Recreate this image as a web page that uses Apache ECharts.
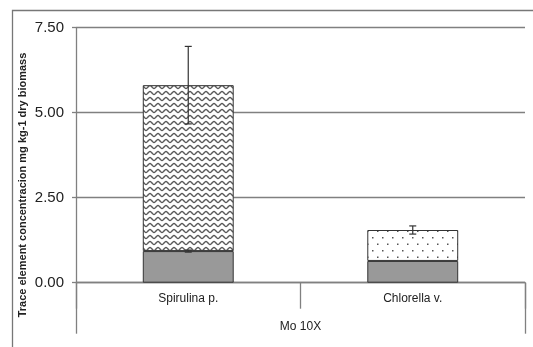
<!DOCTYPE html>
<html><head><meta charset="utf-8">
<script src="https://cdn.jsdelivr.net/npm/echarts@6/dist/echarts.min.js"></script>
<style>html,body{margin:0;padding:0;background:#fff}#c{width:533px;height:347px}</style>
</head><body><div id="c"></div>
<script>
const categories = ['Spirulina p.', 'Chlorella v.'];
const groupLabel = ['Mo 10X'];
const baseValues = [0.93, 0.64];
const baseErrors = [0.03, 0];
const topValues = [4.88, 0.91];
const totalErrors = [1.14, 0.12];
const yTicks = [0, 2.5, 5, 7.5];
const yTitle = 'Trace element concentracion mg kg-1 dry biomass';

function wavePattern() {
  const c = document.createElement('canvas');
  c.width = 8; c.height = 6;
  const g = c.getContext('2d');
  g.fillStyle = '#fff'; g.fillRect(0, 0, 8, 6);
  g.strokeStyle = '#5a5a5a'; g.lineWidth = 1.4;
  g.beginPath();
  for (let x = -1; x <= 9; x += 0.5) {
    const y = 3 + 1.5 * Math.sin(x / 8 * Math.PI * 2);
    if (x === -1) g.moveTo(x, y); else g.lineTo(x, y);
  }
  g.stroke();
  return c;
}
function dotPattern() {
  const c = document.createElement('canvas');
  c.width = 10; c.height = 13;
  const g = c.getContext('2d');
  g.fillStyle = '#fff'; g.fillRect(0, 0, 10, 13);
  g.fillStyle = '#555';
  g.fillRect(2, 3, 1.5, 1.5);
  g.fillRect(7, 9.5, 1.5, 1.5);
  return c;
}

const errData = [];
categories.forEach((c, i) => {
  if (baseErrors[i] > 0) errData.push([i, baseValues[i], baseErrors[i]]);
  errData.push([i, baseValues[i] + topValues[i], totalErrors[i]]);
});

const chart = echarts.init(document.getElementById('c'));
chart.setOption({
  animation: false,
  backgroundColor: '#fff',
  grid: { left: 76, right: 8, top: 27.7, bottom: 64.3, containLabel: false },
  xAxis: [{
    type: 'category', data: categories, position: 'bottom',
    axisLine: { show: true, lineStyle: { color: '#808080', width: 1.3 } },
    axisTick: { show: true, length: 26, interval: 0, lineStyle: { color: '#808080', width: 1.3 } },
    axisLabel: { margin: 10, fontSize: 12, color: '#222', fontFamily: 'Liberation Sans' }
  }, {
    type: 'category', data: groupLabel, position: 'bottom',
    axisLine: { show: false },
    axisTick: { show: true, length: 51, interval: 0, lineStyle: { color: '#808080', width: 1.3 } },
    axisLabel: { margin: 38, fontSize: 12, color: '#222', fontFamily: 'Liberation Sans' }
  }],
  yAxis: {
    type: 'value', min: yTicks[0], max: yTicks[yTicks.length - 1], interval: 2.5,
    axisLine: { show: true, lineStyle: { color: '#808080', width: 1.3 } },
    axisTick: { show: true, length: 4, lineStyle: { color: '#808080', width: 1.3 } },
    axisLabel: { margin: 12, fontSize: 15, color: '#222', fontFamily: 'Liberation Sans', formatter: v => v.toFixed(2) },
    splitLine: { show: true, lineStyle: { color: '#808080', width: 1.3 } }
  },
  graphic: [{
    type: 'rect', shape: { x: 12.5, y: 10.5, width: 560, height: 400 },
    style: { fill: 'none', stroke: '#777', lineWidth: 1.3 }, silent: true, z: -1
  }, {
    type: 'text', x: 23, y: 185, rotation: Math.PI / 2,
    style: { text: yTitle, font: 'bold 11px "Liberation Sans"', fill: '#222', textAlign: 'center', textVerticalAlign: 'middle' }
  }],
  series: [{
    type: 'bar', stack: 's', barWidth: '40.5%', data: baseValues,
    itemStyle: { color: '#999999', borderColor: '#333', borderWidth: 1 }
  }, {
    type: 'bar', stack: 's', barWidth: '40.5%',
    data: topValues.map((v, i) => ({
      value: v,
      itemStyle: { color: { image: i === 0 ? wavePattern() : dotPattern(), repeat: 'repeat' } }
    })),
    itemStyle: { borderColor: '#333', borderWidth: 1 }
  }, {
    type: 'custom', z: 10, data: errData,
    renderItem: function (params, api) {
      const hi = api.coord([api.value(0), api.value(1) + api.value(2)]);
      const lo = api.coord([api.value(0), api.value(1) - api.value(2)]);
      const w = 3.5;
      const st = { stroke: '#333', lineWidth: 1.2 };
      return { type: 'group', children: [
        { type: 'line', shape: { x1: hi[0], y1: hi[1], x2: lo[0], y2: lo[1] }, style: st },
        { type: 'line', shape: { x1: hi[0] - w, y1: hi[1], x2: hi[0] + w, y2: hi[1] }, style: st },
        { type: 'line', shape: { x1: lo[0] - w, y1: lo[1], x2: lo[0] + w, y2: lo[1] }, style: st }
      ] };
    }
  }]
});
</script></body></html>
